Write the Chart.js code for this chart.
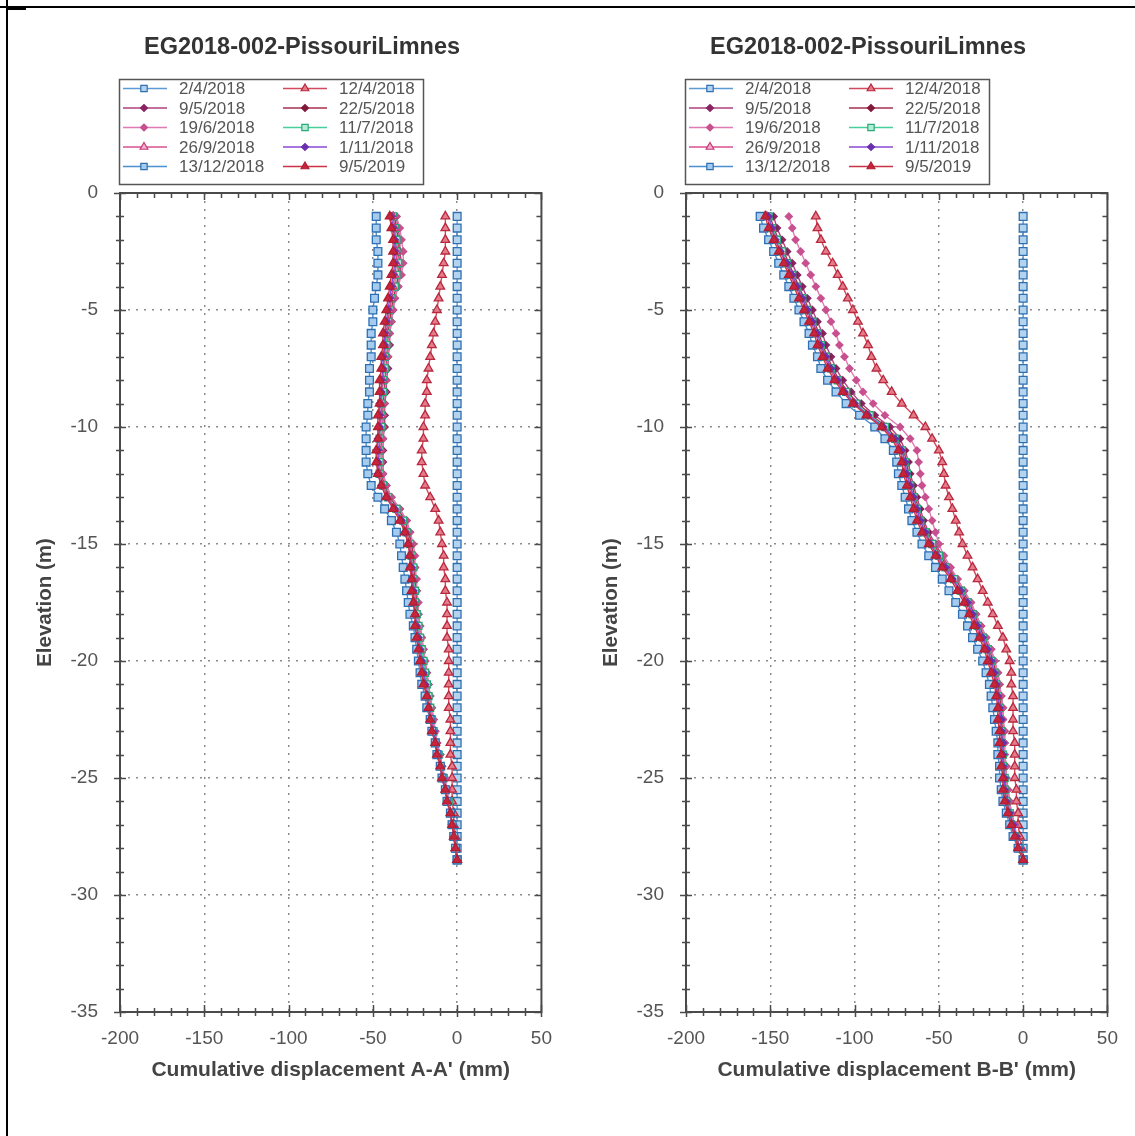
<!DOCTYPE html>
<html>
<head>
<meta charset="utf-8">
<title>EG2018-002-PissouriLimnes</title>
<script src="https://cdn.jsdelivr.net/npm/chart.js@4.4.1/dist/chart.umd.min.js"></script>
<style>
  html, body { margin: 0; padding: 0; background: #fff; }
  #page { position: relative; width: 1135px; height: 1136px; overflow: hidden; background: #fff; }
  #page canvas { position: absolute; top: 0; }
  .rule { position: absolute; background: #000; }
</style>
</head>
<body>
<div id="page">
  <canvas id="chartA" width="567" height="1136" style="left:0"></canvas>
  <canvas id="chartB" width="567" height="1136" style="left:566px"></canvas>
  <div class="rule" style="left:0;top:6px;width:1135px;height:2px"></div>
  <div class="rule" style="left:6px;top:0;width:2px;height:1136px"></div>
  <div class="rule" style="left:8px;top:8px;width:18px;height:2px"></div>
</div>
<script>
// inclinometer readings, one profile per survey date
const readingDates = ["2/4/2018", "12/4/2018", "9/5/2018", "22/5/2018", "19/6/2018",
                      "11/7/2018", "26/9/2018", "1/11/2018", "13/12/2018", "9/5/2019"];

// elevation of each reading (m)
const depth = [-1, -1.5, -2, -2.5, -3, -3.5, -4, -4.5, -5, -5.5,
               -6, -6.5, -7, -7.5, -8, -8.5, -9, -9.5, -10, -10.5,
               -11, -11.5, -12, -12.5, -13, -13.5, -14, -14.5, -15, -15.5,
               -16, -16.5, -17, -17.5, -18, -18.5, -19, -19.5, -20, -20.5,
               -21, -21.5, -22, -22.5, -23, -23.5, -24, -24.5, -25, -25.5,
               -26, -26.5, -27, -27.5, -28, -28.5];

const xTickValues = [-200, -150, -100, -50, 0, 50];
const yTickValues = [0, -5, -10, -15, -20, -25, -30, -35];

// cumulative displacement A-A' (mm)
const aa_20180402 = [0,0,0,0,0,0,0,0,0,0, 0,0,0,0,0,0,0,0,0,0, 0,0,0,0,0,0,0,0,0,0,
                     0,0,0,0,0,0,0,0,0,0, 0,0,0,0,0,0,0,0,0,0, 0,0,0,0,0,0];
const aa_20180412 = [-7,-7,-7,-7,-8,-9,-10,-11,-12,-13, -14,-15,-16,-17,-18,-18,-19,-19,-20,-20,
                     -21,-21,-20,-19,-16,-13,-11,-10,-9,-8, -8,-7,-7,-6,-6,-6,-6,-5,-5,-5,
                     -5,-5,-5,-4,-4,-4,-4,-3,-3,-3, -3,-2,-2,-1,-1,0];
const aa_20180509 = [-36,-35,-34,-34,-33,-34,-35,-37,-38,-39, -40,-40,-41,-41,-42,-42,-43,-43,-43,-44,
                     -44,-44,-44,-42,-39,-34,-30,-28,-27,-26, -25,-25,-24,-24,-23,-22,-21,-20,-19,-18,
                     -17,-16,-15,-14,-13,-12,-10,-9,-8,-6, -5,-4,-3,-2,-1,0];
const aa_20180522 = [-37,-36,-35,-35,-34,-35,-36,-38,-39,-40, -41,-41,-42,-42,-43,-43,-44,-44,-44,-45,
                     -45,-45,-45,-43,-40,-35,-31,-29,-27,-26, -26,-25,-25,-24,-24,-23,-22,-21,-20,-19,
                     -18,-17,-16,-15,-14,-12,-11,-9,-8,-7, -5,-4,-3,-2,-1,0];
const aa_20180619 = [-36,-34,-33,-32,-32,-33,-35,-37,-38,-39, -40,-41,-41,-42,-42,-43,-43,-44,-44,-44,
                     -45,-45,-44,-42,-39,-34,-30,-28,-26,-25, -25,-24,-24,-23,-23,-22,-21,-20,-19,-18,
                     -17,-16,-15,-14,-13,-12,-10,-9,-7,-6, -5,-4,-3,-2,-1,0];
const aa_20180711 = [-38,-37,-36,-36,-35,-36,-37,-39,-40,-41, -42,-42,-43,-43,-44,-44,-45,-45,-45,-46,
                     -46,-46,-46,-44,-41,-36,-32,-30,-28,-27, -26,-26,-25,-25,-24,-23,-22,-21,-20,-19,
                     -18,-17,-16,-15,-14,-13,-11,-10,-8,-7, -5,-4,-3,-2,-1,0];
const aa_20180926 = [-38,-37,-37,-36,-36,-37,-38,-39,-40,-41, -42,-43,-43,-44,-44,-45,-45,-45,-46,-46,
                     -46,-47,-46,-44,-41,-37,-33,-30,-28,-27, -27,-26,-26,-25,-25,-24,-23,-22,-21,-20,
                     -19,-18,-17,-15,-14,-13,-11,-10,-8,-7, -6,-4,-3,-2,-1,0];
const aa_20181101 = [-39,-38,-37,-37,-37,-38,-39,-40,-41,-42, -43,-43,-44,-44,-45,-45,-46,-46,-46,-47,
                     -47,-47,-47,-45,-42,-37,-33,-31,-29,-28, -27,-27,-26,-26,-25,-24,-23,-22,-21,-20,
                     -19,-18,-17,-16,-14,-13,-12,-10,-9,-7, -6,-4,-3,-2,-1,0];
const aa_20181213 = [-48,-48,-48,-47,-47,-47,-48,-49,-50,-50, -51,-51,-51,-52,-52,-52,-53,-53,-54,-54,
                     -54,-54,-53,-51,-47,-43,-39,-36,-34,-33, -32,-31,-30,-29,-28,-26,-25,-24,-23,-22,
                     -21,-19,-18,-16,-15,-13,-12,-10,-9,-7, -6,-4,-3,-2,-1,0];
const aa_20190509 = [-40,-39,-38,-38,-38,-39,-40,-41,-42,-43, -44,-44,-45,-45,-46,-46,-46,-47,-47,-47,
                     -48,-48,-47,-45,-42,-38,-34,-31,-29,-28, -28,-27,-27,-26,-25,-25,-24,-23,-22,-21,
                     -20,-18,-17,-16,-15,-13,-12,-10,-9,-7, -6,-4,-3,-2,-1,0];

// cumulative displacement B-B' (mm)
const bb_20180402 = [0,0,0,0,0,0,0,0,0,0, 0,0,0,0,0,0,0,0,0,0, 0,0,0,0,0,0,0,0,0,0,
                     0,0,0,0,0,0,0,0,0,0, 0,0,0,0,0,0,0,0,0,0, 0,0,0,0,0,0];
const bb_20180412 = [-123,-122,-120,-117,-113,-110,-107,-104,-101,-98, -95,-92,-90,-87,-83,-78,-72,-65,-58,-54,
                     -50,-48,-47,-46,-44,-42,-40,-38,-36,-33, -30,-27,-24,-21,-18,-15,-12,-10,-8,-7,
                     -7,-6,-6,-6,-6,-5,-5,-5,-5,-4, -4,-3,-3,-2,-1,0];
const bb_20180509 = [-148,-146,-143,-140,-137,-134,-131,-128,-125,-122, -119,-117,-114,-111,-107,-102,-96,-88,-79,-73,
                     -70,-68,-67,-65,-63,-61,-59,-56,-52,-48, -44,-39,-35,-31,-28,-25,-22,-19,-17,-15,
                     -14,-13,-12,-12,-11,-11,-11,-10,-10,-9, -8,-7,-5,-4,-2,0];
const bb_20180522 = [-150,-148,-145,-142,-139,-136,-133,-130,-127,-124, -121,-119,-116,-113,-109,-104,-98,-90,-81,-75,
                     -71,-69,-68,-66,-64,-62,-60,-57,-53,-49, -45,-40,-36,-32,-29,-26,-23,-20,-18,-16,
                     -15,-14,-13,-13,-12,-12,-12,-11,-11,-10, -9,-8,-6,-4,-2,0];
const bb_20180619 = [-139,-137,-135,-132,-129,-126,-123,-120,-117,-114, -111,-109,-106,-103,-99,-95,-89,-82,-73,-67,
                     -63,-62,-61,-60,-58,-56,-54,-52,-50,-47, -43,-39,-35,-31,-28,-25,-22,-19,-17,-15,
                     -14,-13,-12,-12,-11,-11,-11,-10,-10,-9, -8,-7,-5,-4,-2,0];
const bb_20180711 = [-151,-149,-146,-143,-140,-137,-134,-131,-128,-125, -122,-120,-117,-114,-110,-105,-99,-91,-82,-76,
                     -72,-70,-69,-67,-65,-63,-61,-58,-54,-50, -46,-41,-37,-33,-30,-27,-24,-21,-19,-17,
                     -16,-15,-14,-14,-13,-13,-12,-12,-11,-11, -10,-8,-7,-5,-2,0];
const bb_20180926 = [-152,-150,-147,-144,-141,-138,-135,-132,-129,-126, -123,-121,-118,-115,-111,-106,-100,-92,-83,-77,
                     -73,-71,-70,-68,-66,-64,-62,-59,-55,-51, -47,-42,-38,-34,-31,-28,-25,-22,-20,-18,
                     -16,-15,-14,-14,-13,-13,-13,-12,-12,-11, -10,-9,-7,-5,-3,0];
const bb_20181101 = [-151,-149,-147,-144,-140,-137,-134,-131,-128,-125, -122,-120,-117,-114,-110,-106,-100,-92,-83,-76,
                     -72,-70,-69,-67,-65,-63,-61,-58,-55,-51, -46,-42,-37,-33,-30,-27,-24,-21,-19,-17,
                     -16,-15,-14,-13,-13,-12,-12,-12,-11,-11, -10,-8,-6,-4,-2,0];
const bb_20181213 = [-156,-154,-151,-148,-145,-142,-139,-136,-133,-130, -127,-125,-122,-120,-116,-111,-105,-97,-88,-82,
                     -77,-75,-74,-72,-70,-68,-66,-63,-60,-56, -52,-48,-44,-40,-36,-33,-30,-27,-24,-22,
                     -20,-19,-18,-17,-16,-15,-15,-14,-14,-13, -12,-10,-8,-6,-3,0];
const bb_20190509 = [-153,-151,-148,-145,-142,-139,-136,-133,-130,-127, -124,-122,-119,-116,-112,-107,-101,-93,-84,-78,
                     -74,-72,-71,-69,-67,-65,-63,-60,-56,-52, -48,-43,-39,-35,-32,-29,-26,-23,-21,-19,
                     -17,-16,-15,-15,-14,-14,-13,-13,-12,-12, -11,-9,-7,-5,-3,0];

const aaSeries = [aa_20180402, aa_20180412, aa_20180509, aa_20180522, aa_20180619,
                  aa_20180711, aa_20180926, aa_20181101, aa_20181213, aa_20190509];
const bbSeries = [bb_20180402, bb_20180412, bb_20180509, bb_20180522, bb_20180619,
                  bb_20180711, bb_20180926, bb_20181101, bb_20181213, bb_20190509];

// line / marker look for each survey, same order as readingDates
const seriesStyle = [
  { line: "#5b9bd5", border: "#2f6faf", fill: "#b3d3ef", shape: "rect",     r: 5.5 },
  { line: "#d24a5c", border: "#b8283f", fill: "#e57a88", shape: "triangle", r: 5 },
  { line: "#b0407e", border: "#8a2463", fill: "#8a2463", shape: "rectRot",  r: 3.5 },
  { line: "#a8304e", border: "#82183a", fill: "#82183a", shape: "rectRot",  r: 3.5 },
  { line: "#e07ab2", border: "#c8508f", fill: "#c8508f", shape: "rectRot",  r: 3.5 },
  { line: "#46cf9c", border: "#2aa878", fill: "#b5ecd6", shape: "rect",     r: 5 },
  { line: "#d9508e", border: "#c53a7a", fill: "#f4b0cf", shape: "triangle", r: 4.5 },
  { line: "#8a4ad4", border: "#6a2fb0", fill: "#6a2fb0", shape: "rectRot",  r: 3.5 },
  { line: "#4a8fd0", border: "#2c6fb2", fill: "#a5cbee", shape: "rect",     r: 5.5 },
  { line: "#cc3346", border: "#b01e34", fill: "#c8243c", shape: "triangle", r: 5 }
];

const FONT = '"Liberation Sans", Arial, Helvetica, sans-serif';

function buildDatasets(series) {
  return series.map((vals, i) => {
    const s = seriesStyle[i];
    return {
      label: readingDates[i],
      data: vals.map((v, k) => ({ x: v, y: depth[k] })),
      showLine: true,
      borderColor: s.line,
      borderWidth: 1.4,
      pointStyle: s.shape,
      pointRadius: s.r,
      pointBorderColor: s.border,
      pointBackgroundColor: s.fill,
      pointBorderWidth: 1.3,
      // later surveys sit on top
      order: series.length - 1 - i
    };
  });
}

// plot frame with crossing ticks, title and the two-column legend box
const profileFrame = {
  id: "profileFrame",
  afterDraw(chart, args, opts) {
    const { ctx, chartArea: a, scales: { x, y } } = chart;
    ctx.save();

    ctx.strokeStyle = "#4a4a4a";
    ctx.lineWidth = 2;
    ctx.strokeRect(a.left, a.top, a.right - a.left, a.bottom - a.top);

    ctx.lineWidth = 1.5;
    ctx.beginPath();
    for (let v = x.min; v <= x.max; v += 10) {
      const px = Math.round(x.getPixelForValue(v)) + 0.5;
      const major = v % 50 === 0;
      ctx.moveTo(px, a.bottom - (major ? 7 : 4));
      ctx.lineTo(px, a.bottom + (major ? 5 : 4));
      ctx.moveTo(px, a.top);
      ctx.lineTo(px, a.top + (major ? 7 : 5));
    }
    for (let v = y.max; v >= y.min; v -= 1) {
      const py = Math.round(y.getPixelForValue(v)) + 0.5;
      const major = v % 5 === 0;
      ctx.moveTo(a.left - (major ? 6 : 4), py);
      ctx.lineTo(a.left + (major ? 6 : 4), py);
      ctx.moveTo(a.right - (major ? 7 : 5), py);
      ctx.lineTo(a.right, py);
    }
    ctx.stroke();

    // title
    ctx.fillStyle = "#333";
    ctx.font = "bold 23.5px " + FONT;
    ctx.textAlign = "center";
    ctx.textBaseline = "middle";
    ctx.fillText(opts.title, a.left + 182, 48);

    // legend
    const bx = a.left - 1, by = 79, bw = 304, bh = 105;
    ctx.strokeStyle = "#555";
    ctx.lineWidth = 1.5;
    ctx.strokeRect(bx + 0.5, by + 0.5, bw, bh);
    ctx.font = "17px " + FONT;
    ctx.textAlign = "left";
    ctx.fillStyle = "#555";
    const cols = [{ l0: 4, l1: 48, m: 25, t: 60 }, { l0: 164, l1: 208, m: 186, t: 220 }];
    chart.data.datasets.forEach((ds, i) => {
      const c = cols[i % 2];
      const ry = by + 9.5 + Math.floor(i / 2) * 19.5;
      ctx.strokeStyle = ds.borderColor;
      ctx.lineWidth = 1.5;
      ctx.beginPath();
      ctx.moveTo(bx + c.l0, ry);
      ctx.lineTo(bx + c.l1, ry);
      ctx.stroke();
      ctx.fillStyle = ds.pointBackgroundColor;
      ctx.strokeStyle = ds.pointBorderColor;
      ctx.lineWidth = 1.2;
      Chart.helpers.drawPoint(ctx, {
        pointStyle: ds.pointStyle, radius: Math.min(ds.pointRadius, 4.5), borderWidth: 1.2, rotation: 0
      }, bx + c.m, ry);
      ctx.fillStyle = "#555";
      ctx.fillText(ds.label, bx + c.t, ry + 1);
    });

    ctx.restore();
  }
};

function makeProfile(canvas, series, axisTitle, padRight) {
  return new Chart(canvas, {
    type: "scatter",
    data: { datasets: buildDatasets(series) },
    plugins: [profileFrame],
    options: {
      responsive: false,
      animation: false,
      layout: { padding: { top: 193, right: padRight, bottom: 0, left: 0 } },
      plugins: {
        legend: { display: false },
        tooltip: { enabled: false },
        profileFrame: { title: "EG2018-002-PissouriLimnes" }
      },
      scales: {
        x: {
          type: "linear",
          min: -200,
          max: 50,
          afterBuildTicks: s => { s.ticks = xTickValues.map(v => ({ value: v })); },
          afterFit: s => { s.height = 124; },
          border: { display: false, dash: [2, 6] },
          grid: {
            drawTicks: false,
            lineWidth: 1.5,
            color: c => (c.tick && (c.tick.value === -200 || c.tick.value === 50)) ? "transparent" : "#8c8c8c"
          },
          ticks: {
            color: "#555",
            padding: 15,
            maxRotation: 0,
            autoSkip: false,
            font: { family: FONT, size: 19 }
          },
          title: {
            display: true,
            text: axisTitle,
            color: "#444",
            font: { family: FONT, size: 21, weight: "bold" },
            padding: { top: 0, bottom: 53 }
          }
        },
        y: {
          type: "linear",
          min: -35,
          max: 0,
          afterBuildTicks: s => { s.ticks = yTickValues.map(v => ({ value: v })); },
          afterFit: s => { s.width = 120; },
          border: { display: false, dash: [2, 6] },
          grid: {
            drawTicks: false,
            lineWidth: 1.5,
            color: c => (c.tick && (c.tick.value === 0 || c.tick.value === -35)) ? "transparent" : "#8c8c8c"
          },
          ticks: {
            color: "#555",
            padding: 22,
            autoSkip: false,
            font: { family: FONT, size: 19 }
          },
          title: {
            display: true,
            text: "Elevation (m)",
            color: "#444",
            font: { family: FONT, size: 20.5, weight: "bold" },
            padding: { top: 33, bottom: 0 }
          }
        }
      }
    }
  });
}

makeProfile(document.getElementById("chartA"), aaSeries, "Cumulative displacement A-A' (mm)", 22);
makeProfile(document.getElementById("chartB"), bbSeries, "Cumulative displacement B-B' (mm)", 25);
</script>
</body>
</html>
